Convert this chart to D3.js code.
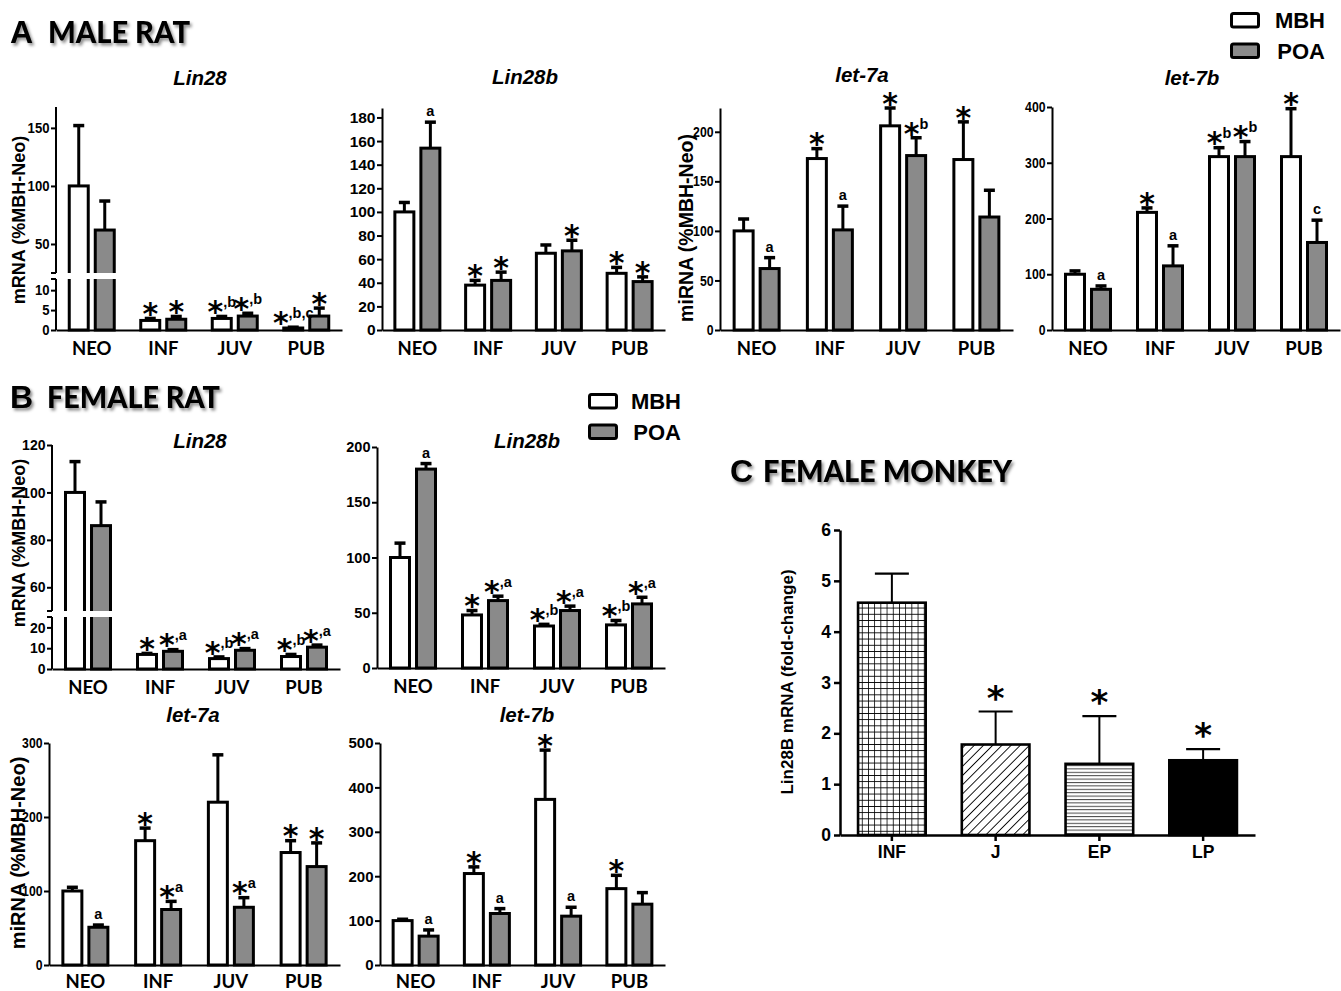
<!DOCTYPE html>
<html>
<head>
<meta charset="utf-8">
<script src="https://cdn.jsdelivr.net/npm/d3@7"></script>
<style>
  body { margin: 0; background: #fff; }
  svg { display: block; }
</style>
</head>
<body>
<svg id="fig" width="1341" height="991"></svg>
<script>
// ---------- data ----------
const ratStages = ["NEO", "INF", "JUV", "PUB"];
const regions = ["MBH", "POA"];

// Male rat, Lin28 mRNA (% of MBH-Neo), mean and SEM
const maleLin28MBH = [100, 2.4, 2.9, 0.5];
const maleLin28MBHSem = [52, 0.5, 0.5, 0.2];
const maleLin28POA = [62, 2.7, 3.5, 3.5];
const maleLin28POASem = [25, 0.7, 0.7, 2.0];
const maleLin28MBHMarks = ["", "*", "*,b", "*,b,c"];
const maleLin28POAMarks = ["", "*", "*,b", "*"];

// Male rat, Lin28b mRNA
const maleLin28bMBH = [100, 38, 65, 48];
const maleLin28bMBHSem = [8, 4, 7, 5];
const maleLin28bPOA = [154, 42, 67, 41];
const maleLin28bPOASem = [22, 7, 9, 4];
const maleLin28bMBHMarks = ["", "*", "", "*"];
const maleLin28bPOAMarks = ["a", "*", "*", "*"];

// Male rat, let-7a miRNA
const maleLet7aMBH = [100, 173, 206, 172];
const maleLet7aMBHSem = [12, 10, 18, 38];
const maleLet7aPOA = [62, 101, 176, 114];
const maleLet7aPOASem = [11, 24, 18, 27];
const maleLet7aMBHMarks = ["", "*", "*", "*"];
const maleLet7aPOAMarks = ["a", "a", "*b", ""];

// Male rat, let-7b miRNA
const maleLet7bMBH = [100, 211, 311, 311];
const maleLet7bMBHSem = [6, 8, 16, 86];
const maleLet7bPOA = [73, 115, 311, 157];
const maleLet7bPOASem = [6, 36, 27, 40];
const maleLet7bMBHMarks = ["", "*", "*b", "*"];
const maleLet7bPOAMarks = ["a", "a", "*b", "c"];

// Female rat, Lin28 mRNA
const femaleLin28MBH = [100, 7, 5, 6];
const femaleLin28MBHSem = [13, 0.5, 0.8, 1];
const femaleLin28POA = [86, 8.5, 9, 10.5];
const femaleLin28POASem = [10, 0.8, 0.8, 1];
const femaleLin28MBHMarks = ["", "*", "*,b", "*,b"];
const femaleLin28POAMarks = ["", "*,a", "*,a", "*,a"];

// Female rat, Lin28b mRNA
const femaleLin28bMBH = [100, 48, 38, 39];
const femaleLin28bMBHSem = [13, 4, 1.5, 4];
const femaleLin28bPOA = [180, 61, 52, 58];
const femaleLin28bPOASem = [5, 4, 4, 6];
const femaleLin28bMBHMarks = ["", "*", "*,b", "*,b"];
const femaleLin28bPOAMarks = ["a", "*,a", "*,a", "*,a"];

// Female rat, let-7a miRNA
const femaleLet7aMBH = [100, 168, 220, 152];
const femaleLet7aMBHSem = [5, 17, 64, 16];
const femaleLet7aPOA = [51, 75, 78, 133];
const femaleLet7aPOASem = [3, 11, 13, 32];
const femaleLet7aMBHMarks = ["", "*", "", "*"];
const femaleLet7aPOAMarks = ["a", "*a", "*a", "*"];

// Female rat, let-7b miRNA
const femaleLet7bMBH = [100, 206, 373, 172];
const femaleLet7bMBHSem = [3, 15, 111, 30];
const femaleLet7bPOA = [65, 116, 110, 137];
const femaleLet7bPOASem = [14, 11, 20, 26];
const femaleLet7bMBHMarks = ["", "*", "*", "*"];
const femaleLet7bPOAMarks = ["a", "a", "a", ""];

// Female monkey, Lin28B mRNA (fold-change)
const monkeyStages = ["INF", "J", "EP", "LP"];
const monkeyValues = [4.57, 1.78, 1.40, 1.47];
const monkeySem = [0.57, 0.65, 0.94, 0.22];
const monkeyMarks = ["", "*", "*", "*"];

// ---------- styles ----------
const POA_GRAY = "#8a8a8a";
const SANS = '"Liberation Sans",Arial,Helvetica,sans-serif';
const STAR_FONT = '"DejaVu Sans","Liberation Sans",sans-serif';
const CAT_FONT = 'Lato,"Open Sans",Calibri,sans-serif';

const svg = d3.select("#fig");
const defs = svg.append("defs");

// soft shadow behind the section headings
const shadow = defs.append("filter").attr("id", "headShadow")
  .attr("x", "-10%").attr("y", "-30%").attr("width", "130%").attr("height", "180%");
shadow.append("feDropShadow").attr("dx", 2).attr("dy", 2.5)
  .attr("stdDeviation", 1.6).attr("flood-color", "#000").attr("flood-opacity", 0.45);

// fill patterns for the monkey bars
const grid = defs.append("pattern").attr("id", "patGrid").attr("patternUnits", "userSpaceOnUse")
  .attr("width", 6.2).attr("height", 6.2);
grid.append("rect").attr("width", 6.2).attr("height", 6.2).attr("fill", "#fff");
grid.append("path").attr("d", "M0,0H6.2M0,0V6.2").attr("stroke", "#000").attr("stroke-width", 1.6);

const diag = defs.append("pattern").attr("id", "patDiag").attr("patternUnits", "userSpaceOnUse")
  .attr("width", 6.5).attr("height", 6.5).attr("patternTransform", "rotate(45)");
diag.append("rect").attr("width", 6.5).attr("height", 6.5).attr("fill", "#fff");
diag.append("path").attr("d", "M0,0V6.5").attr("stroke", "#000").attr("stroke-width", 1.8);

const horiz = defs.append("pattern").attr("id", "patHoriz").attr("patternUnits", "userSpaceOnUse")
  .attr("width", 6).attr("height", 3.4);
horiz.append("rect").attr("width", 6).attr("height", 3.4).attr("fill", "#fff");
horiz.append("path").attr("d", "M0,0.5H6").attr("stroke", "#444").attr("stroke-width", 1);

const monkeyFills = ["url(#patGrid)", "url(#patDiag)", "url(#patHoriz)", "#000"];

// ---------- headings ----------
function heading(letter, text, x, y, textX, textLen) {
  const g = svg.append("g").attr("filter", "url(#headShadow)");
  g.append("text").attr("x", x).attr("y", y)
    .attr("font-family", SANS).attr("font-weight", "bold").attr("font-size", 32)
    .text(letter);
  g.append("text").attr("x", textX).attr("y", y)
    .attr("font-family", CAT_FONT).attr("font-weight", 900).attr("font-size", 31)
    .attr("textLength", textLen).attr("lengthAdjust", "spacingAndGlyphs")
    .text(text);
}
heading("A", "MALE RAT", 10, 43, 48, 142);
heading("B", "FEMALE RAT", 10, 408, 47, 173);
heading("C", "FEMALE MONKEY", 730, 482, 763, 249);

// ---------- legend ----------
function legend(bx, yTop, textRight) {
  regions.forEach((r, i) => {
    const y = yTop + i * 30.5;
    svg.append("rect").attr("x", bx + 1.5).attr("y", y + 1.5).attr("width", 27).attr("height", 13.5)
      .attr("rx", 2).attr("fill", r === "MBH" ? "#fff" : POA_GRAY)
      .attr("stroke", "#000").attr("stroke-width", 3);
    svg.append("text").attr("x", textRight).attr("y", y + 16).attr("text-anchor", "end")
      .attr("font-family", SANS).attr("font-weight", "bold").attr("font-size", 22)
      .text(r);
  });
}
legend(1230, 12, 1325);
legend(588, 393, 681);

// ---------- significance marks ----------
function addMark(g, cx, capY, m, starSize, letterSize, starGap) {
  if (!m) return;
  const t = g.append("text").attr("text-anchor", "middle")
    .attr("font-family", SANS).attr("font-weight", "bold");
  if (m[0] === "*") {
    t.attr("x", cx).attr("y", capY + starSize * 0.36 - starGap);
    t.append("tspan").attr("font-family", STAR_FONT).attr("font-size", starSize).text("*");
    if (m.length > 1) {
      t.append("tspan").attr("font-size", letterSize).attr("dy", -starSize * 0.5).text(m.slice(1));
    }
  } else {
    t.attr("x", cx).attr("y", capY - 6).attr("font-size", letterSize).text(m);
  }
}

// ---------- rat panels ----------
function ratPanel(p) {
  const g = svg.append("g");
  const x = d3.scaleBand().domain(ratStages).range([p.x0, p.x1]);
  const sub = d3.scaleBand().domain(regions).range([-22.5, 22.5]).paddingInner(0.27);
  const y = p.brk
    ? d3.scaleLinear().domain([0, p.brk.lowMax, p.brk.highMin, p.max])
        .range([p.base, p.brk.lowTop, p.brk.highBottom, p.top])
    : d3.scaleLinear().domain([0, p.max]).range([p.base, p.top]);

  const rows = ratStages.flatMap((s, i) => [
    { s, r: "MBH", v: p.mbh[i], e: p.mbhSem[i], m: p.mbhMarks[i] },
    { s, r: "POA", v: p.poa[i], e: p.poaSem[i], m: p.poaMarks[i] }
  ]);
  const left = d => x(d.s) + x.bandwidth() / 2 + sub(d.r);
  const cx = d => left(d) + sub.bandwidth() / 2;

  // error bars (upper only)
  g.selectAll("line.err").data(rows).join("line").attr("class", "err")
    .attr("x1", cx).attr("x2", cx)
    .attr("y1", d => y(d.v)).attr("y2", d => y(d.v + d.e))
    .attr("stroke", "#000").attr("stroke-width", 3);
  g.selectAll("line.cap").data(rows).join("line").attr("class", "cap")
    .attr("x1", d => cx(d) - 5.5).attr("x2", d => cx(d) + 5.5)
    .attr("y1", d => y(d.v + d.e)).attr("y2", d => y(d.v + d.e))
    .attr("stroke", "#000").attr("stroke-width", 3.5);

  // bars
  g.selectAll("rect.bar").data(rows).join("rect").attr("class", "bar")
    .attr("x", left).attr("width", sub.bandwidth())
    .attr("y", d => y(d.v)).attr("height", d => p.base - y(d.v))
    .attr("fill", d => d.r === "MBH" ? "#fff" : POA_GRAY)
    .attr("stroke", "#000").attr("stroke-width", 3);

  // white gap for a broken axis
  if (p.brk) {
    g.append("rect").attr("x", p.x0 + 1.5).attr("width", p.x1 - p.x0)
      .attr("y", p.brk.highBottom).attr("height", p.brk.lowTop - p.brk.highBottom)
      .attr("fill", "#fff");
  }

  // y axis
  const ax = g.append("g").attr("transform", `translate(${p.x0},0)`)
    .call(d3.axisLeft(y).tickValues(p.ticks).tickSize(5).tickSizeOuter(0).tickPadding(1.5));
  const tickText = ax.selectAll("text").attr("font-family", SANS).attr("font-weight", "bold")
    .attr("font-size", p.tickSize).attr("fill", "#000");
  if (p.digitW) {
    tickText.attr("textLength", d => String(d).length * p.digitW).attr("lengthAdjust", "spacingAndGlyphs");
  }
  ax.selectAll(".tick line").attr("stroke-width", 2);
  ax.select(".domain").attr("stroke-width", 2);
  if (p.brk) {
    ax.select(".domain").remove();
    const seg = (y1, y2) => ax.append("line").attr("x1", 0).attr("x2", 0).attr("y1", y1).attr("y2", y2)
      .attr("stroke", "#000").attr("stroke-width", 2);
    const nick = yy => ax.append("line").attr("x1", -5).attr("x2", 0).attr("y1", yy).attr("y2", yy)
      .attr("stroke", "#000").attr("stroke-width", 2);
    seg(p.base, p.brk.lowTop); seg(p.brk.highBottom, p.top);
    nick(p.brk.lowTop); nick(p.brk.highBottom);
  }

  // x axis with stage names
  const bx = g.append("g").attr("transform", `translate(0,${p.base})`)
    .call(d3.axisBottom(x).tickSize(0).tickSizeOuter(0).tickPadding(p.catPad || 12));
  bx.select(".domain").attr("stroke-width", 2);
  bx.selectAll("text").attr("font-family", CAT_FONT).attr("font-weight", "bold")
    .attr("font-size", 18.5).attr("fill", "#000");

  // significance marks
  rows.forEach(d => addMark(g, cx(d), y(d.v + d.e), d.m, 30, 14.5, 5));

  // title
  g.append("text").attr("x", p.titleX).attr("y", p.titleY).attr("text-anchor", "middle")
    .attr("font-family", SANS).attr("font-weight", "bold").attr("font-style", "italic")
    .attr("font-size", 20.5).text(p.title);

  // y label
  if (p.yLabel) {
    g.append("text").attr("transform", `translate(${p.yLabel.x},${p.yLabel.y}) rotate(-90)`)
      .attr("text-anchor", "middle").attr("font-family", SANS).attr("font-weight", "bold")
      .attr("font-size", p.yLabel.size).text(p.yLabel.text);
  }
}

ratPanel({
  title: "Lin28", titleX: 200, titleY: 85,
  mbh: maleLin28MBH, mbhSem: maleLin28MBHSem, poa: maleLin28POA, poaSem: maleLin28POASem,
  mbhMarks: maleLin28MBHMarks, poaMarks: maleLin28POAMarks,
  x0: 56, x1: 342, base: 330, top: 107, max: 168,
  brk: { lowMax: 12.8, highMin: 25, lowTop: 279, highBottom: 273 },
  ticks: [0, 5, 10, 50, 100, 150], tickSize: 14.5, digitW: 7.3,
  yLabel: { text: "mRNA (%MBH-Neo)", x: 25, y: 220, size: 18 }
});
ratPanel({
  title: "Lin28b", titleX: 525, titleY: 84,
  mbh: maleLin28bMBH, mbhSem: maleLin28bMBHSem, poa: maleLin28bPOA, poaSem: maleLin28bPOASem,
  mbhMarks: maleLin28bMBHMarks, poaMarks: maleLin28bPOAMarks,
  x0: 382, x1: 665, base: 330, top: 108, max: 188,
  ticks: d3.range(0, 181, 20), tickSize: 15.5
});
ratPanel({
  title: "let-7a", titleX: 862, titleY: 82,
  mbh: maleLet7aMBH, mbhSem: maleLet7aMBHSem, poa: maleLet7aPOA, poaSem: maleLet7aPOASem,
  mbhMarks: maleLet7aMBHMarks, poaMarks: maleLet7aPOAMarks,
  x0: 720, x1: 1013, base: 330, top: 108, max: 224,
  ticks: d3.range(0, 201, 50), tickSize: 14.5, digitW: 6.8,
  yLabel: { text: "miRNA (%MBH-Neo)", x: 693, y: 228, size: 19.5 }
});
ratPanel({
  title: "let-7b", titleX: 1192, titleY: 85,
  mbh: maleLet7bMBH, mbhSem: maleLet7bMBHSem, poa: maleLet7bPOA, poaSem: maleLet7bPOASem,
  mbhMarks: maleLet7bMBHMarks, poaMarks: maleLet7bPOAMarks,
  x0: 1052, x1: 1340, base: 330, top: 107, max: 400,
  ticks: d3.range(0, 401, 100), tickSize: 14.5, digitW: 6.8
});

ratPanel({
  title: "Lin28", titleX: 200, titleY: 448,
  mbh: femaleLin28MBH, mbhSem: femaleLin28MBHSem, poa: femaleLin28POA, poaSem: femaleLin28POASem,
  mbhMarks: femaleLin28MBHMarks, poaMarks: femaleLin28POAMarks,
  x0: 52, x1: 340, base: 669, top: 445, max: 120,
  brk: { lowMax: 25, highMin: 50, lowTop: 617, highBottom: 611 },
  ticks: [0, 10, 20, 60, 80, 100, 120], tickSize: 14.5, digitW: 7.8,
  yLabel: { text: "mRNA (%MBH-Neo)", x: 25, y: 543, size: 18 }
});
ratPanel({
  title: "Lin28b", titleX: 527, titleY: 448,
  mbh: femaleLin28bMBH, mbhSem: femaleLin28bMBHSem, poa: femaleLin28bPOA, poaSem: femaleLin28bPOASem,
  mbhMarks: femaleLin28bMBHMarks, poaMarks: femaleLin28bPOAMarks,
  x0: 377, x1: 665, base: 668, top: 447, max: 200,
  ticks: d3.range(0, 201, 50), tickSize: 14.5
});
ratPanel({
  title: "let-7a", titleX: 193, titleY: 722,
  mbh: femaleLet7aMBH, mbhSem: femaleLet7aMBHSem, poa: femaleLet7aPOA, poaSem: femaleLet7aPOASem,
  mbhMarks: femaleLet7aMBHMarks, poaMarks: femaleLet7aPOAMarks,
  x0: 49, x1: 340, base: 965, top: 743, max: 300,
  ticks: d3.range(0, 301, 100), tickSize: 15.5, digitW: 6.8, catPad: 10,
  yLabel: { text: "miRNA (%MBH-Neo)", x: 25, y: 853, size: 20 }
});
ratPanel({
  title: "let-7b", titleX: 527, titleY: 722,
  mbh: femaleLet7bMBH, mbhSem: femaleLet7bMBHSem, poa: femaleLet7bPOA, poaSem: femaleLet7bPOASem,
  mbhMarks: femaleLet7bMBHMarks, poaMarks: femaleLet7bPOAMarks,
  x0: 380, x1: 665, base: 965, top: 743, max: 500,
  ticks: d3.range(0, 501, 100), tickSize: 15, catPad: 10
});

// ---------- monkey panel ----------
(function monkeyPanel() {
  const g = svg.append("g");
  const x0 = 840, x1 = 1255, base = 835, top = 530;
  const x = d3.scaleBand().domain(monkeyStages).range([x0, x1]).paddingInner(0.325).paddingOuter(0.1625);
  const y = d3.scaleLinear().domain([0, 6]).range([base, top]);
  const rows = monkeyStages.map((s, i) => ({ s, v: monkeyValues[i], e: monkeySem[i], m: monkeyMarks[i], f: monkeyFills[i] }));
  const cx = d => x(d.s) + x.bandwidth() / 2;

  g.selectAll("line.err").data(rows).join("line").attr("class", "err")
    .attr("x1", cx).attr("x2", cx).attr("y1", d => y(d.v)).attr("y2", d => y(d.v + d.e))
    .attr("stroke", "#000").attr("stroke-width", 2);
  g.selectAll("line.cap").data(rows).join("line").attr("class", "cap")
    .attr("x1", d => cx(d) - 17).attr("x2", d => cx(d) + 17)
    .attr("y1", d => y(d.v + d.e)).attr("y2", d => y(d.v + d.e))
    .attr("stroke", "#000").attr("stroke-width", 2.2);
  g.selectAll("rect.bar").data(rows).join("rect").attr("class", "bar")
    .attr("x", d => x(d.s) + 1.2).attr("width", x.bandwidth() - 2.4)
    .attr("y", d => y(d.v)).attr("height", d => base - y(d.v))
    .attr("fill", d => d.f).attr("stroke", "#000").attr("stroke-width", 2.6);

  const ax = g.append("g").attr("transform", `translate(${x0},0)`)
    .call(d3.axisLeft(y).ticks(6).tickSize(6).tickSizeOuter(0).tickPadding(3));
  ax.select(".domain").attr("stroke-width", 2.5);
  ax.selectAll(".tick line").attr("stroke-width", 2.5);
  ax.selectAll("text").attr("font-family", SANS).attr("font-weight", "bold")
    .attr("font-size", 17.5).attr("fill", "#000");

  const bx = g.append("g").attr("transform", `translate(0,${base})`)
    .call(d3.axisBottom(x).tickSize(6).tickSizeOuter(0).tickPadding(5));
  bx.select(".domain").attr("stroke-width", 2.5);
  bx.selectAll(".tick line").attr("stroke-width", 2.5);
  bx.selectAll("text").attr("font-family", SANS).attr("font-weight", "bold")
    .attr("font-size", 17.5).attr("fill", "#000");

  rows.forEach(d => addMark(g, cx(d), y(d.v + d.e), d.m, 34, 15, 14));

  g.append("text").attr("transform", "translate(793,682) rotate(-90)")
    .attr("text-anchor", "middle").attr("font-family", SANS).attr("font-weight", "bold")
    .attr("font-size", 17).text("Lin28B mRNA (fold-change)");
})();
</script>
</body>
</html>
